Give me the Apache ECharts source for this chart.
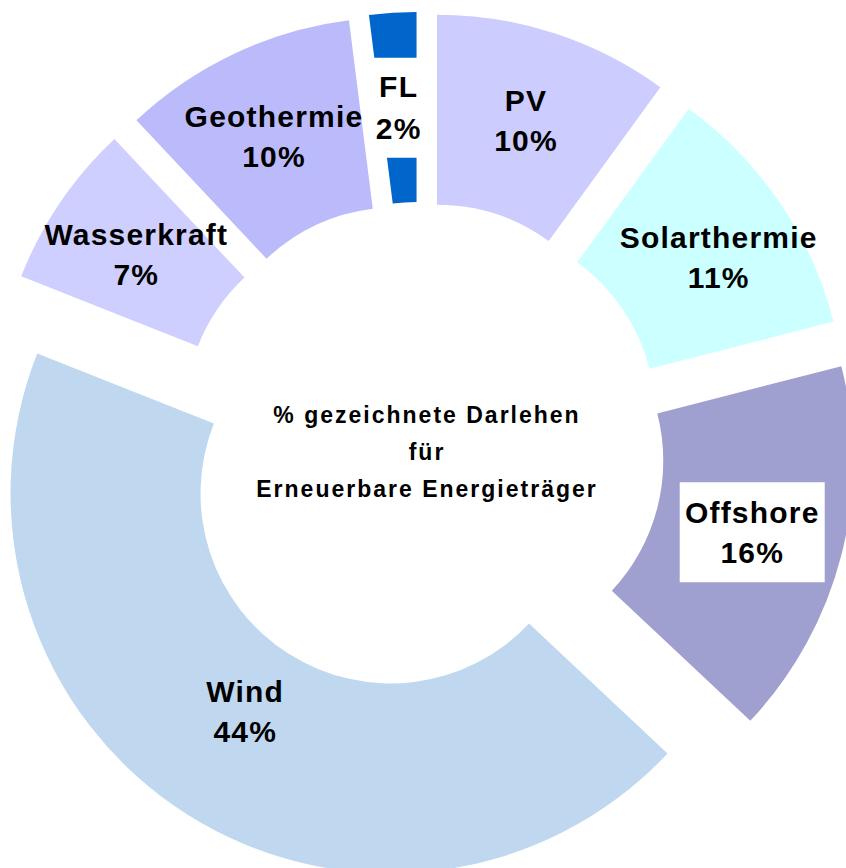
<!DOCTYPE html>
<html>
<head>
<meta charset="utf-8">
<script src="https://cdn.jsdelivr.net/npm/echarts@6/dist/echarts.min.js"></script>
<style>
  html, body { margin: 0; padding: 0; background: #fff; }
  #chart { width: 846px; height: 868px; }
</style>
</head>
<body>
<div id="chart"></div>
<script>
// Anteile je Energieträger (im Uhrzeigersinn ab 12 Uhr)
var categories = ["PV", "Solarthermie", "Offshore", "Wind", "Wasserkraft", "Geothermie", "FL"];
var shares = [10, 11, 16, 44, 7, 10, 2];
var colors = ["#CCCCFF", "#CCFFFF", "#A0A0D0", "#BFD8F0", "#CFCFFF", "#BBBBFC", "#0066CC"];
var centerText = "% gezeichnete Darlehen\nfür\nErneuerbare Energieträger";

var CX = 420, CY = 447, R0 = 190, R1 = 380, OFFSET = 55;
var FONT = "Liberation Sans, Arial, sans-serif";

var myChart = echarts.init(document.getElementById("chart"), null, { renderer: "svg" });

function labelText(i) {
  return categories[i] + "\n" + shares[i] + "%";
}

var data = [];
for (var i = 0; i < categories.length; i++) {
  var item = {
    name: categories[i],
    value: shares[i],
    selected: true,
    itemStyle: { color: colors[i] }
  };
  if (categories[i] === "Offshore") {
    item.label = { backgroundColor: "#fff", padding: [10, 10] };
  }
  if (categories[i] === "FL") {
    // zu schmal für ein Innenlabel -> eigener Text unten
    item.label = { show: false };
  }
  data.push(item);
}

// kleine Verschiebungen der Beschriftung wie im Original
var labelShift = { Wind: [9, -25], Solarthermie: [15, 3] };

// FL-Beschriftung mittig im (versetzten) Segment
var total = 0, before = 0, flIdx = categories.indexOf("FL");
for (var k = 0; k < shares.length; k++) {
  total += shares[k];
  if (k < flIdx) before += shares[k];
}
var midAng = (before + shares[flIdx] / 2) / total * Math.PI * 2;
var rMid = OFFSET + (R0 + R1) / 2;

myChart.setOption({
  animation: false,
  backgroundColor: "#fff",
  graphic: [
    {
      type: "text",
      x: 427,
      y: 452,
      style: {
        text: centerText,
        align: "center",
        verticalAlign: "middle",
        fontSize: 23,
        fontWeight: "bold",
        fontFamily: FONT,
        lineHeight: 37,
        fill: "#000"
      }
    },
    {
      type: "text",
      x: CX + rMid * Math.sin(midAng),
      y: CY - rMid * Math.cos(midAng),
      z: 10,
      style: {
        text: labelText(flIdx),
        align: "center",
        verticalAlign: "middle",
        fontSize: 30,
        fontWeight: "bold",
        fontFamily: FONT,
        lineHeight: 42,
        fill: "#000",
        backgroundColor: "#fff",
        padding: [0, 10, 16, 10]
      }
    }
  ],
  series: [
    {
      type: "pie",
      center: [CX, CY],
      radius: [R0, R1],
      startAngle: 90,
      clockwise: true,
      selectedMode: "multiple",
      selectedOffset: OFFSET,
      avoidLabelOverlap: false,
      emphasis: { scale: false },
      labelLine: { show: false },
      label: {
        show: true,
        position: "inside",
        color: "#000",
        fontSize: 30,
        fontWeight: "bold",
        fontFamily: FONT,
        lineHeight: 40,
        formatter: function (p) {
          return labelText(p.dataIndex);
        }
      },
      labelLayout: function (params) {
        var s = labelShift[categories[params.dataIndex]];
        if (s) return { dx: s[0], dy: s[1] };
      },
      data: data
    }
  ]
});

// etwas Buchstabenabstand wie im Original
function spaceLetters() {
  var texts = document.querySelectorAll("#chart text");
  for (var t = 0; t < texts.length; t++) {
    var fs = parseFloat(getComputedStyle(texts[t]).fontSize);
    texts[t].style.letterSpacing = fs < 26 ? "2px" : "1.2px";
  }
}
spaceLetters();
myChart.on("finished", spaceLetters);
setTimeout(spaceLetters, 50);
</script>
</body>
</html>
